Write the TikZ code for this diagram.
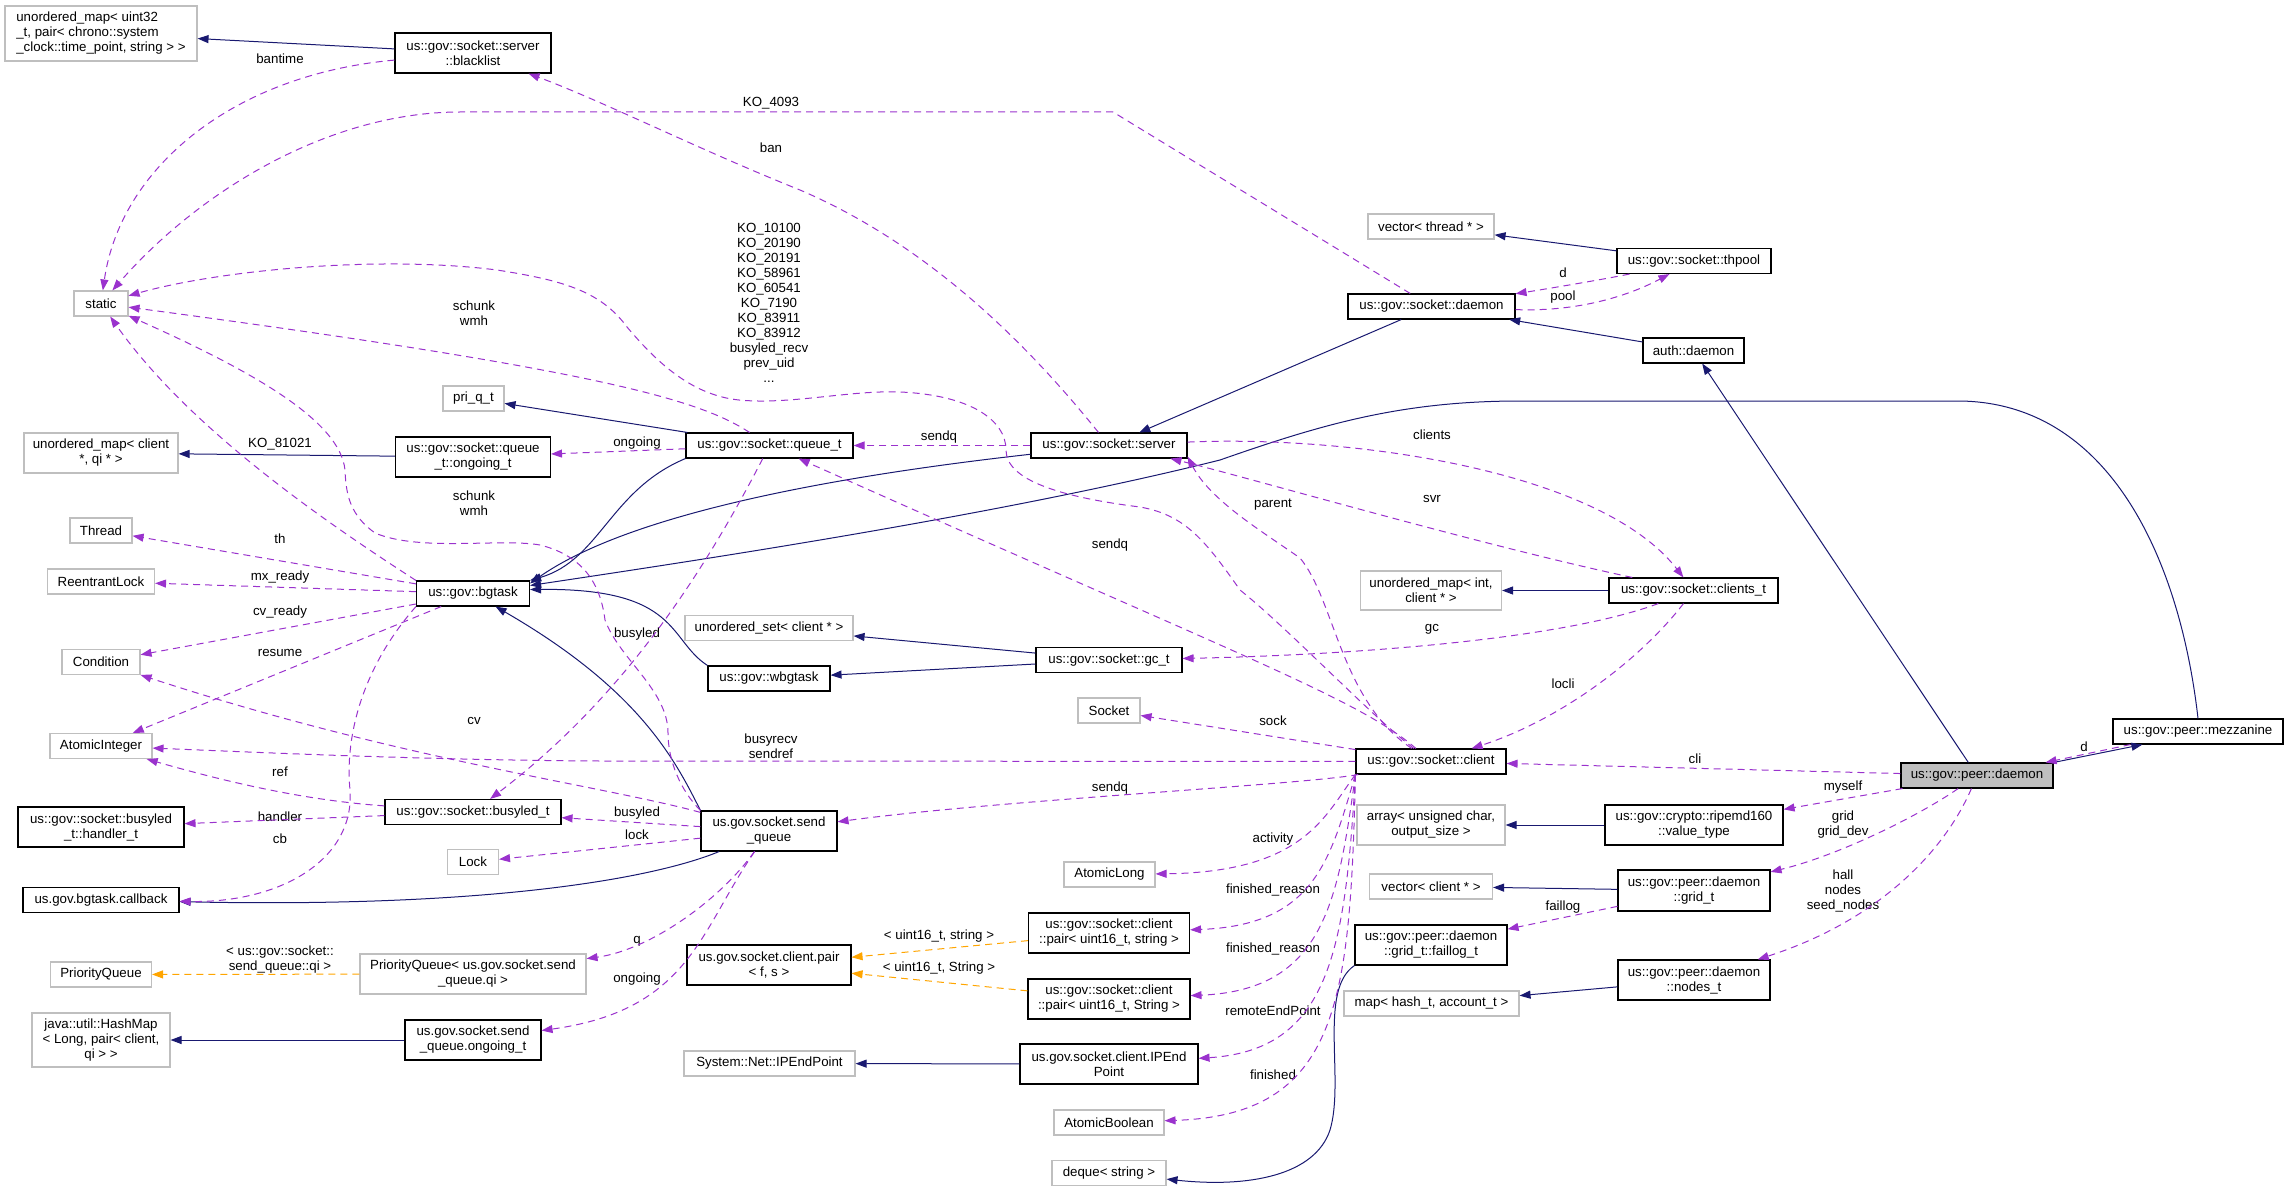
\documentclass[tikz,border=0pt]{standalone}
\usepackage{fontspec}
\setmainfont{Liberation Sans}
\usetikzlibrary{arrows.meta}
\definecolor{navyline}{RGB}{25,25,112}
\definecolor{orchid}{RGB}{154,50,205}
\definecolor{tmplorange}{RGB}{255,165,0}
\definecolor{boxgray}{RGB}{191,191,191}
\tikzset{
	clsbox/.style={draw=black, line width=1.1pt, fill=white, inner sep=2pt, align=center, minimum height=25},
	extbox/.style={draw=boxgray, line width=1.1pt, fill=white, inner sep=2pt, align=center, minimum height=25},
	lblnode/.style={inner sep=0pt, align=center},
	inhedge/.style={draw=navyline, line width=1pt, -{Triangle[length=11pt,width=8pt]}},
	usedge/.style={draw=orchid, line width=1pt, dash pattern=on 7pt off 5pt, -{Triangle[length=11pt,width=8pt]}},
	tpledge/.style={draw=tmplorange, line width=1pt, dash pattern=on 7pt off 5pt, -{Triangle[length=11pt,width=8pt]}}
}
\begin{document}
\begin{tikzpicture}[x=1pt, y=-1pt, every node/.style={font=\fontsize{13.3}{15}\selectfont}]
		\useasboundingbox (0,0) rectangle (2288,1193);
		
		%%%%% CLASSES %%%%%
		
		\node[extbox, align=left, minimum width=192, minimum height=55] (umapuint) at (101,33.5) {unordered\_map< uint32\\\_t, pair< chrono::system\\\_clock::time\_point, string > >};
		\node[clsbox, minimum width=156, minimum height=40] (blacklist) at (473,53) {us::gov::socket::server\\::blacklist};
		\node[extbox, minimum width=54] (static) at (101,303.5) {static};
		\node[extbox, minimum width=61] (priq) at (473.5,398.5) {pri\_q\_t};
		\node[extbox, minimum width=154, minimum height=40] (umapcli) at (101,453) {unordered\_map< client\\*, qi * >};
		\node[clsbox, minimum width=155, minimum height=40] (qongoing) at (473,457) {us::gov::socket::queue\\\_t::ongoing\_t};
		\node[extbox, minimum width=62] (thread) at (101,530.5) {Thread};
		\node[extbox, minimum width=107] (rlock) at (101,581.5) {ReentrantLock};
		\node[clsbox, minimum width=113] (bgtask) at (473,593.5) {us::gov::bgtask};
		\node[extbox, minimum width=78] (cond) at (101,662) {Condition};
		\node[extbox, minimum width=102] (aint) at (101,746) {AtomicInteger};
		\node[clsbox, minimum width=166, minimum height=40] (handler) at (101,827) {us::gov::socket::busyled\\\_t::handler\_t};
		\node[clsbox, minimum width=176] (busyled) at (473,812) {us::gov::socket::busyled\_t};
		\node[extbox, minimum width=51] (lock) at (473,862) {Lock};
		\node[clsbox, minimum width=156] (callback) at (101,900) {us.gov.bgtask.callback};
		\node[extbox, minimum width=101] (pq) at (101,974.5) {PriorityQueue};
		\node[extbox, minimum width=226, minimum height=40] (pqsend) at (473,974) {PriorityQueue< us.gov.socket.send\\\_queue.qi >};
		\node[extbox, minimum width=138, minimum height=54] (hashmap) at (101,1040) {java::util::HashMap\\< Long, pair< client,\\qi > >};
		\node[clsbox, minimum width=136, minimum height=40] (sqongoing) at (473,1040) {us.gov.socket.send\\\_queue.ongoing\_t};
		
		\node[clsbox, minimum width=167] (queue) at (769.5,445.5) {us::gov::socket::queue\_t};
		\node[clsbox, minimum width=156] (server) at (1109,445.5) {us::gov::socket::server};
		\node[extbox, minimum width=168] (uset) at (769,628) {unordered\_set< client * >};
		\node[clsbox, minimum width=122] (wbgtask) at (769,678.5) {us::gov::wbgtask};
		\node[clsbox, minimum width=146] (gct) at (1109,660) {us::gov::socket::gc\_t};
		\node[extbox, minimum width=62] (socket) at (1109,710.5) {Socket};
		\node[clsbox, minimum width=136, minimum height=40] (sendq) at (769,831) {us.gov.socket.send\\\_queue};
		\node[extbox, minimum width=91] (along) at (1109.5,874.5) {AtomicLong};
		\node[clsbox, minimum width=161, minimum height=40] (pairlow) at (1109,933) {us::gov::socket::client\\::pair< uint16\_t, string >};
		\node[clsbox, minimum width=164, minimum height=40] (cpair) at (769,965) {us.gov.socket.client.pair\\< f, s >};
		\node[clsbox, minimum width=162, minimum height=40] (pairup) at (1109,999) {us::gov::socket::client\\::pair< uint16\_t, String >};
		\node[extbox, minimum width=171] (sysip) at (769.5,1063.5) {System::Net::IPEndPoint};
		\node[clsbox, minimum width=178, minimum height=40] (ipend) at (1109,1064) {us.gov.socket.client.IPEnd\\Point};
		\node[extbox, minimum width=110] (abool) at (1109,1122.5) {AtomicBoolean};
		\node[extbox, minimum width=114] (deque) at (1109,1173) {deque< string >};
		
		\node[extbox, minimum width=126] (vecthr) at (1431,226.5) {vector< thread * >};
		\node[clsbox, minimum width=154] (thpool) at (1694,261) {us::gov::socket::thpool};
		\node[clsbox, minimum width=167] (sockd) at (1431.5,306.5) {us::gov::socket::daemon};
		\node[clsbox, minimum width=101] (authd) at (1693.5,350.5) {auth::daemon};
		\node[extbox, minimum width=141, minimum height=39] (umapint) at (1431,590.5) {unordered\_map< int,\\client * >};
		\node[clsbox, minimum width=169] (clients) at (1693.5,590.5) {us::gov::socket::clients\_t};
		\node[clsbox, minimum width=150] (client) at (1431,761.5) {us::gov::socket::client};
		\node[extbox, minimum width=148, minimum height=40] (arr) at (1431,825) {array< unsigned char,\\output\_size >};
		\node[clsbox, minimum width=178, minimum height=40] (ripemd) at (1694,825) {us::gov::crypto::ripemd160\\::value\_type};
		\node[extbox, minimum width=123] (veccli) at (1431,886.5) {vector< client * >};
		\node[clsbox, minimum width=152, minimum height=41] (gridt) at (1694,890.5) {us::gov::peer::daemon\\::grid\_t};
		\node[clsbox, minimum width=152, minimum height=40] (faillog) at (1431,945) {us::gov::peer::daemon\\::grid\_t::faillog\_t};
		\node[clsbox, minimum width=152, minimum height=40] (nodest) at (1694,980) {us::gov::peer::daemon\\::nodes\_t};
		\node[extbox, minimum width=175] (maphash) at (1431.5,1003.5) {map< hash\_t, account\_t >};
		\node[clsbox, minimum width=170] (mezz) at (2198,731.5) {us::gov::peer::mezzanine};
		\node[clsbox, fill=boxgray, minimum width=152] (peerd) at (1977,775.5) {us::gov::peer::daemon};
		
		%%%%% EDGE LABELS %%%%%
		
		\node[lblnode] (lbantime) at (280,59) {bantime};
		\node[lblnode] (lko4093) at (771,103) {KO\_4093};
		\node[lblnode] (lban) at (771,148) {ban};
		\node[lblnode] (lkolist) at (769,302.5) {KO\_10100\\KO\_20190\\KO\_20191\\KO\_58961\\KO\_60541\\KO\_7190\\KO\_83911\\KO\_83912\\busyled\_recv\\prev\_uid\\...};
		\node[lblnode] (lschunka) at (474,313.5) {schunk\\wmh};
		\node[lblnode] (lko81021) at (280,444) {KO\_81021};
		\node[lblnode] (longoinga) at (637,443) {ongoing};
		\node[lblnode] (lsendqa) at (939,437) {sendq};
		\node[lblnode] (lclients) at (1432,435) {clients};
		\node[lblnode] (lschunkb) at (474,503.5) {schunk\\wmh};
		\node[lblnode] (lsvr) at (1432,499) {svr};
		\node[lblnode] (lparent) at (1273,505) {parent};
		\node[lblnode] (lth) at (280,539) {th};
		\node[lblnode] (lsendqb) at (1110,545) {sendq};
		\node[lblnode] (lmxready) at (280,577) {mx\_ready};
		\node[lblnode] (lcvready) at (280,612) {cv\_ready};
		\node[lblnode] (lgc) at (1432,629) {gc};
		\node[lblnode] (lbusyleda) at (637,634) {busyled};
		\node[lblnode] (lresume) at (280,653) {resume};
		\node[lblnode] (llocli) at (1563,684) {locli};
		\node[lblnode] (lcv) at (474,721) {cv};
		\node[lblnode] (lsock) at (1273,721) {sock};
		\node[lblnode] (lbusyrecv) at (771,746) {busyrecv\\sendref};
		\node[lblnode] (ldmezz) at (2084,747) {d};
		\node[lblnode] (lcli) at (1695,759) {cli};
		\node[lblnode] (lref) at (280,772) {ref};
		\node[lblnode] (lsendqc) at (1110,788) {sendq};
		\node[lblnode] (lmyself) at (1843,787) {myself};
		\node[lblnode] (lbusyledb) at (637,813) {busyled};
		\node[lblnode] (lhandler) at (280,817) {handler};
		\node[lblnode] (lgrid) at (1843,824.5) {grid\\grid\_dev};
		\node[lblnode] (llock) at (637,835) {lock};
		\node[lblnode] (lcb) at (280,839) {cb};
		\node[lblnode] (lactivity) at (1273,839) {activity};
		\node[lblnode] (lhall) at (1843,890.5) {hall\\nodes\\seed\_nodes};
		\node[lblnode] (lfinreasona) at (1273,890) {finished\_reason};
		\node[lblnode] (lfaillog) at (1563,907) {faillog};
		\node[lblnode] (lpairlow) at (939,936) {< uint16\_t, string >};
		\node[lblnode] (lq) at (637,941) {q};
		\node[lblnode] (lfinreasonb) at (1273,949) {finished\_reason};
		\node[lblnode] (lqi) at (280,959.5) {< us::gov::socket::\\send\_queue::qi >};
		\node[lblnode] (lpairup) at (939,968) {< uint16\_t, String >};
		\node[lblnode] (longoingb) at (637,979) {ongoing};
		\node[lblnode] (lremote) at (1273,1011) {remoteEndPoint};
		\node[lblnode] (lfinished) at (1273,1075) {finished};
		\node[lblnode] (ldthpool) at (1563,273) {d};
		\node[lblnode] (lpool) at (1563,297) {pool};
		
		%%%%% INHERITANCE %%%%%
		
		\draw[inhedge] (blacklist) -- (umapuint);
		\draw[inhedge] (qongoing) -- (umapcli);
		\draw[inhedge] (queue) -- (priq);
		\draw[inhedge] (queue.south west) .. controls (610,490) and (600,560) .. (bgtask.north east);
		\draw[inhedge] (server) .. controls (800,480) and (620,520) .. (bgtask.10);
		\draw[inhedge] (mezz.north) .. controls (2180,560) and (2110,403) .. (1960,401) -- (1520,401) .. controls (1400,401) and (1320,425) .. (1220,460) .. controls (1000,515) and (700,560) .. (bgtask.8);
		\draw[inhedge] (wbgtask.north west) .. controls (668,640) and (680,588) .. (bgtask.4);
		\draw[inhedge] (sendq.north west) .. controls (675,760) and (640,690) .. (bgtask);
		\draw[inhedge] (sendq) .. controls (650,880) and (480,908) .. (callback);
		\draw[inhedge] (sqongoing) -- (hashmap);
		\draw[inhedge] (gct) -- (uset);
		\draw[inhedge] (gct) -- (wbgtask);
		\draw[inhedge] (sockd) -- (server);
		\draw[inhedge] (thpool) -- (vecthr);
		\draw[inhedge] (authd) -- (sockd);
		\draw[inhedge] (peerd) -- (authd);
		\draw[inhedge] (peerd.north east) -- ([xshift=30pt]mezz.south west);
		\draw[inhedge] (clients) -- (umapint);
		\draw[inhedge] (ripemd) -- (arr);
		\draw[inhedge] (gridt) -- (veccli);
		\draw[inhedge] (nodest) -- (maphash);
		\draw[inhedge] (ipend) -- (sysip);
		\draw[inhedge] (faillog.south west) .. controls (1318,990) and (1345,1080) .. (1330,1130) .. controls (1315,1175) and (1250,1188) .. (deque);
		
		%%%%% MEMBERS %%%%%
		
		\draw[usedge] (blacklist) .. controls (230,75) and (120,170) .. (static);
		\draw[usedge] (sockd) -- (1113,112) -- (460,112) .. controls (330,112) and (200,190) .. (static);
		\draw[usedge] (server) .. controls (1040,360) and (940,250) .. (800,190) .. controls (700,150) and (600,100) .. (blacklist);
		\draw[usedge] (client) .. controls (1370,715) and (1290,630) .. (1240,590) .. controls (1205,540) and (1185,515) .. (1140,507) .. controls (1060,497) and (1006,480) .. (1006,450) .. controls (1006,420) and (970,395) .. (900,392) .. controls (850,390) and (790,405) .. (739,400) .. controls (690,395) and (655,360) .. (627,327) .. controls (600,290) and (560,280) .. (497,270) .. controls (380,255) and (220,270) .. (static);
		\draw[usedge] (queue) .. controls (700,400) and (600,370) .. (static);
		\draw[usedge] (sendq.north west) .. controls (680,790) and (668,760) .. (668,733) .. controls (668,690) and (620,660) .. (605,620) .. controls (600,580) and (580,555) .. (540,545) .. controls (500,538) and (420,552) .. (375,533) .. controls (350,515) and (346,495) .. (345,470) .. controls (340,420) and (250,370) .. (static);
		\draw[usedge] (bgtask.north west) .. controls (330,525) and (190,430) .. (static);
		\draw[usedge] (bgtask) -- (thread);
		\draw[usedge] (bgtask) -- (rlock);
		\draw[usedge] (bgtask) -- (cond);
		\draw[usedge] (bgtask) -- (aint);
		\draw[usedge] (bgtask.south west) .. controls (360,670) and (345,740) .. (350,790) .. controls (355,860) and (280,903) .. (callback);
		\draw[usedge] (client) -- (600,761) .. controls (420,760) and (250,752) .. (aint);
		\draw[usedge] (busyled) .. controls (300,800) and (220,780) .. (aint);
		\draw[usedge] (sendq) .. controls (600,785) and (400,760) .. (cond);
		\draw[usedge] (busyled) -- (handler);
		\draw[usedge] (sendq) -- (busyled);
		\draw[usedge] (sendq) -- (lock);
		\draw[usedge] (queue) .. controls (700,580) and (620,700) .. (busyled);
		\draw[usedge] (sendq) .. controls (720,900) and (650,950) .. (pqsend);
		\draw[usedge] (sendq) .. controls (700,930) and (690,1010) .. (sqongoing);
		\draw[usedge] (queue) -- (qongoing);
		\draw[usedge] (server) -- (queue);
		\draw[usedge] (client) .. controls (1360,700) and (1250,660) .. (queue);
		\draw[usedge] (client) .. controls (1300,785) and (1000,800) .. (sendq);
		\draw[usedge] (client) -- (socket);
		\draw[usedge] (client.south west) .. controls (1325,815) and (1305,872) .. (along);
		\draw[usedge] (client.south west) .. controls (1330,860) and (1315,925) .. (pairlow);
		\draw[usedge] (client.south west) .. controls (1338,900) and (1325,990) .. (pairup);
		\draw[usedge] (client.south west) .. controls (1345,950) and (1330,1050) .. (ipend);
		\draw[usedge] (client.south west) .. controls (1350,1000) and (1340,1115) .. (abool);
		\draw[usedge] (server) .. controls (1350,435) and (1600,470) .. (clients);
		\draw[usedge] (clients) .. controls (1480,545) and (1250,478) .. (server.-12);
		\draw[usedge] (client) .. controls (1340,700) and (1335,600) .. (1300,558) .. controls (1260,530) and (1210,500) .. (server.-8);
		\draw[usedge] (clients) .. controls (1560,640) and (1350,655) .. (gct);
		\draw[usedge] (clients) .. controls (1640,660) and (1560,720) .. (client);
		\draw[usedge] (peerd) -- (client);
		\draw[usedge] (peerd) -- (ripemd);
		\draw[usedge] (peerd) .. controls (1920,815) and (1840,855) .. (gridt);
		\draw[usedge] (peerd) .. controls (1945,850) and (1880,920) .. (nodest);
		\draw[usedge] (gridt) -- (faillog);
		\draw[usedge] ([xshift=18pt]mezz.south west) -- ([xshift=-8pt]peerd.north east);
		\draw[usedge] (thpool) .. controls (1600,280) and (1540,290) .. (sockd);
		\draw[usedge] (sockd) .. controls (1580,312) and (1630,295) .. (thpool);
		
		%%%%% TEMPLATES %%%%%
		
		\draw[tpledge] (pqsend) -- (pq);
		\draw[tpledge] (pairlow) -- (cpair);
		\draw[tpledge] (pairup) -- (cpair);
		
	\end{tikzpicture}
\end{document}
